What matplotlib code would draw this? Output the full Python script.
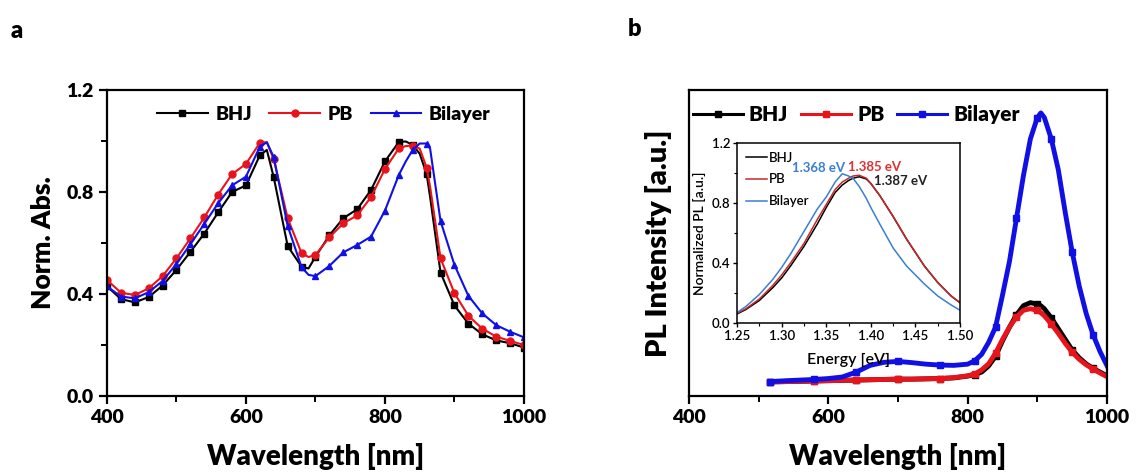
import matplotlib.pyplot as plt
import numpy as np

plt.rcParams['font.family'] = ['Lato', 'DejaVu Sans']

# ---- panel a: absorption ----
wl_abs = [400, 420, 440, 460, 480, 500, 520, 540, 560, 580, 600, 620, 630, 640,
          660, 680, 690, 700, 720, 740, 760, 780, 800, 820, 830, 840, 850, 860,
          865, 880, 900, 920, 940, 960, 980, 1000]
bhj_abs = [0.43, 0.38, 0.367, 0.388, 0.433, 0.495, 0.565, 0.637, 0.72, 0.80, 0.826, 0.944, 0.965, 0.857,
           0.588, 0.507, 0.50, 0.546, 0.63, 0.697, 0.732, 0.808, 0.92, 0.996, 0.998, 0.984, 0.95, 0.87,
           0.78, 0.484, 0.355, 0.284, 0.242, 0.218, 0.207, 0.19]
pb_abs = [0.455, 0.405, 0.396, 0.422, 0.47, 0.54, 0.618, 0.70, 0.79, 0.87, 0.91, 0.993, 0.995, 0.928,
          0.697, 0.56, 0.545, 0.553, 0.622, 0.677, 0.708, 0.78, 0.89, 0.971, 0.98, 0.982, 0.97, 0.895,
          0.82, 0.54, 0.403, 0.315, 0.264, 0.233, 0.216, 0.20]
bil_abs = [0.43, 0.39, 0.383, 0.407, 0.451, 0.518, 0.595, 0.675, 0.756, 0.826, 0.86, 0.978, 0.995, 0.936,
           0.667, 0.505, 0.475, 0.47, 0.51, 0.563, 0.592, 0.625, 0.727, 0.867, 0.92, 0.965, 0.99, 0.99,
           0.97, 0.686, 0.514, 0.393, 0.324, 0.278, 0.252, 0.23]

# ---- panel b: PL spectra (arb. units) ----
wl_pl = [516, 540, 560, 580, 600, 620, 640, 660, 680, 700, 720, 740, 760, 780, 800,
         810, 820, 830, 840, 850, 860, 870, 880, 890, 900, 905, 910, 920, 930, 940,
         950, 960, 970, 980, 990, 1000]
bhj_pl = [0.046, 0.047, 0.048, 0.049, 0.050, 0.051, 0.052, 0.053, 0.054, 0.055, 0.055, 0.056, 0.057, 0.059, 0.065,
          0.070, 0.078, 0.098, 0.130, 0.180, 0.225, 0.265, 0.295, 0.305, 0.300, 0.295, 0.285, 0.255, 0.220, 0.185,
          0.150, 0.125, 0.105, 0.090, 0.078, 0.066]
pb_pl = [0.046, 0.047, 0.048, 0.049, 0.050, 0.051, 0.052, 0.053, 0.054, 0.055, 0.055, 0.056, 0.057, 0.060, 0.066,
         0.072, 0.085, 0.105, 0.140, 0.185, 0.225, 0.258, 0.280, 0.285, 0.280, 0.272, 0.262, 0.235, 0.205, 0.172,
         0.143, 0.120, 0.102, 0.088, 0.075, 0.063]
bil_pl = [0.047, 0.050, 0.052, 0.054, 0.057, 0.062, 0.078, 0.100, 0.110, 0.113, 0.109, 0.104, 0.101, 0.100, 0.104,
          0.115, 0.136, 0.175, 0.225, 0.33, 0.44, 0.58, 0.72, 0.84, 0.91, 0.925, 0.91, 0.84, 0.74, 0.60,
          0.47, 0.36, 0.27, 0.20, 0.145, 0.099]

# ---- inset: normalized PL vs energy ----
en = [1.25, 1.26, 1.275, 1.29, 1.30, 1.31, 1.325, 1.34, 1.35, 1.36, 1.368, 1.375, 1.38, 1.387,
      1.395, 1.40, 1.41, 1.425, 1.44, 1.45, 1.46, 1.475, 1.49, 1.50]
bhj_n = [0.06, 0.09, 0.15, 0.235, 0.30, 0.38, 0.51, 0.66, 0.77, 0.87, 0.92, 0.95, 0.965, 0.975,
         0.96, 0.93, 0.85, 0.71, 0.56, 0.47, 0.38, 0.27, 0.18, 0.135]
pb_n = [0.065, 0.095, 0.16, 0.25, 0.32, 0.40, 0.53, 0.69, 0.79, 0.89, 0.94, 0.965, 0.98, 0.985,
        0.965, 0.93, 0.85, 0.71, 0.56, 0.47, 0.38, 0.27, 0.18, 0.135]
bil_n = [0.07, 0.11, 0.19, 0.29, 0.37, 0.46, 0.61, 0.76, 0.84, 0.94, 0.995, 0.98, 0.965, 0.91,
         0.83, 0.77, 0.66, 0.50, 0.38, 0.32, 0.26, 0.18, 0.12, 0.085]

labels = ['BHJ', 'PB', 'Bilayer']
colors = ['black', '#e8141b', '#1010e6']
markers = ['s', 'o', '^']

fig = plt.figure(figsize=(11.36, 4.74), dpi=100)
ax1 = fig.add_axes([0.0942, 0.1646, 0.367, 0.6456])
ax2 = fig.add_axes([0.6065, 0.1646, 0.368, 0.6456])
axin = fig.add_axes([0.6488, 0.3186, 0.1963, 0.3797])

# panel a
mark_idx = [i for i, w in enumerate(wl_abs) if w % 20 == 0]
for y, c, m, lab in zip([bhj_abs, pb_abs, bil_abs], colors, markers, labels):
    ax1.plot(wl_abs, y, color=c, marker=m, ms=5, lw=1.5, markevery=mark_idx, label=lab)
ax1.set_xlim(400, 1000)
ax1.set_ylim(0, 1.2)
ax1.set_xticks([400, 600, 800, 1000])
ax1.set_xticks([500, 700, 900], minor=True)
ax1.set_yticks([0.0, 0.4, 0.8, 1.2])
ax1.set_yticks([0.2, 0.6, 1.0], minor=True)
ax1.yaxis.set_major_formatter(plt.FormatStrFormatter('%.1f'))
ax1.set_xlabel('Wavelength [nm]', fontsize=20, fontweight='heavy', labelpad=12)
ax1.set_ylabel('Norm. Abs.', fontsize=19, fontweight='heavy', labelpad=8)
ax1.legend(loc='center', bbox_to_anchor=(0.52, 0.92), ncol=3, frameon=False,
           prop={'size': 14, 'weight': 'heavy'}, handlelength=2.6, columnspacing=0.9,
           handletextpad=0.4)

# panel b
for y, c, lab in zip([bhj_pl, pb_pl, bil_pl], colors, labels):
    ax2.plot(wl_pl, y, color=c, marker='s', ms=4, lw=3.5, markevery=3, label=lab)
ax2.set_xlim(400, 1000)
ax2.set_ylim(0, 1)
ax2.set_xticks([400, 600, 800, 1000])
ax2.set_xticks([500, 700, 900], minor=True)
ax2.set_yticks([])
ax2.set_xlabel('Wavelength [nm]', fontsize=20, fontweight='heavy', labelpad=12)
ax2.set_ylabel('PL Intensity [a.u.]', fontsize=21, fontweight='heavy', labelpad=12)
leg2 = ax2.legend(loc='center', bbox_to_anchor=(0.40, 0.92), ncol=3, frameon=False,
                  prop={'size': 15, 'weight': 'heavy'}, handlelength=2.4, columnspacing=0.6,
                  handletextpad=0.3)
for h in leg2.get_lines():
    h.set_linewidth(2.2)

for ax in (ax1, ax2):
    for s in ax.spines.values():
        s.set_linewidth(1.6)
    ax.tick_params(which='major', length=6, width=1.6, labelsize=14)
    ax.tick_params(which='minor', length=4, width=1.4)
    for t in ax.get_xticklabels() + ax.get_yticklabels():
        t.set_fontweight('heavy')

# inset
in_colors = ['black', '#c8282a', '#3a7fd0']
for y, c, lab in zip([bhj_n, pb_n, bil_n], in_colors, labels):
    axin.plot(en, y, color=c, lw=1.1, label=lab)
axin.set_xlim(1.25, 1.50)
axin.set_ylim(0, 1.2)
axin.set_xticks([1.25, 1.30, 1.35, 1.40, 1.45, 1.50])
axin.set_xticks([1.275, 1.325, 1.375, 1.425, 1.475], minor=True)
axin.set_yticks([0.0, 0.4, 0.8, 1.2])
axin.set_yticks([0.2, 0.6, 1.0], minor=True)
axin.yaxis.set_major_formatter(plt.FormatStrFormatter('%.1f'))
axin.tick_params(which='major', length=3, width=1, labelsize=9.5, pad=2)
axin.tick_params(which='minor', length=2, width=0.8)
for t in axin.get_xticklabels() + axin.get_yticklabels():
    t.set_fontweight('semibold')
for s in axin.spines.values():
    s.set_linewidth(1.1)
axin.set_xlabel('Energy [eV]', fontsize=11.5, fontweight='semibold', labelpad=8)
axin.set_ylabel('Normalized PL [a.u.]', fontsize=10, fontweight='semibold', labelpad=4)
axin.legend(loc='upper left', frameon=False, prop={'size': 9.5, 'weight': 'semibold'},
            handlelength=1.6, handletextpad=0.2, labelspacing=0.75, borderaxespad=0.25)
axin.text(1.341, 1.033, '1.368 eV', color='#3a7fd0', fontsize=9.5, fontweight='bold',
          ha='center', va='center')
axin.text(1.404, 1.042, '1.385 eV', color='#e03030', fontsize=9.5, fontweight='bold',
          ha='center', va='center')
axin.text(1.4036, 0.95, '1.387 eV', color='#222222', fontsize=9.5, fontweight='bold',
          ha='left', va='center')

fig.text(0.009, 0.92, 'a', fontsize=17, fontweight='heavy')
fig.text(0.553, 0.925, 'b', fontsize=17, fontweight='heavy')

fig.savefig('out.png', dpi=100)
